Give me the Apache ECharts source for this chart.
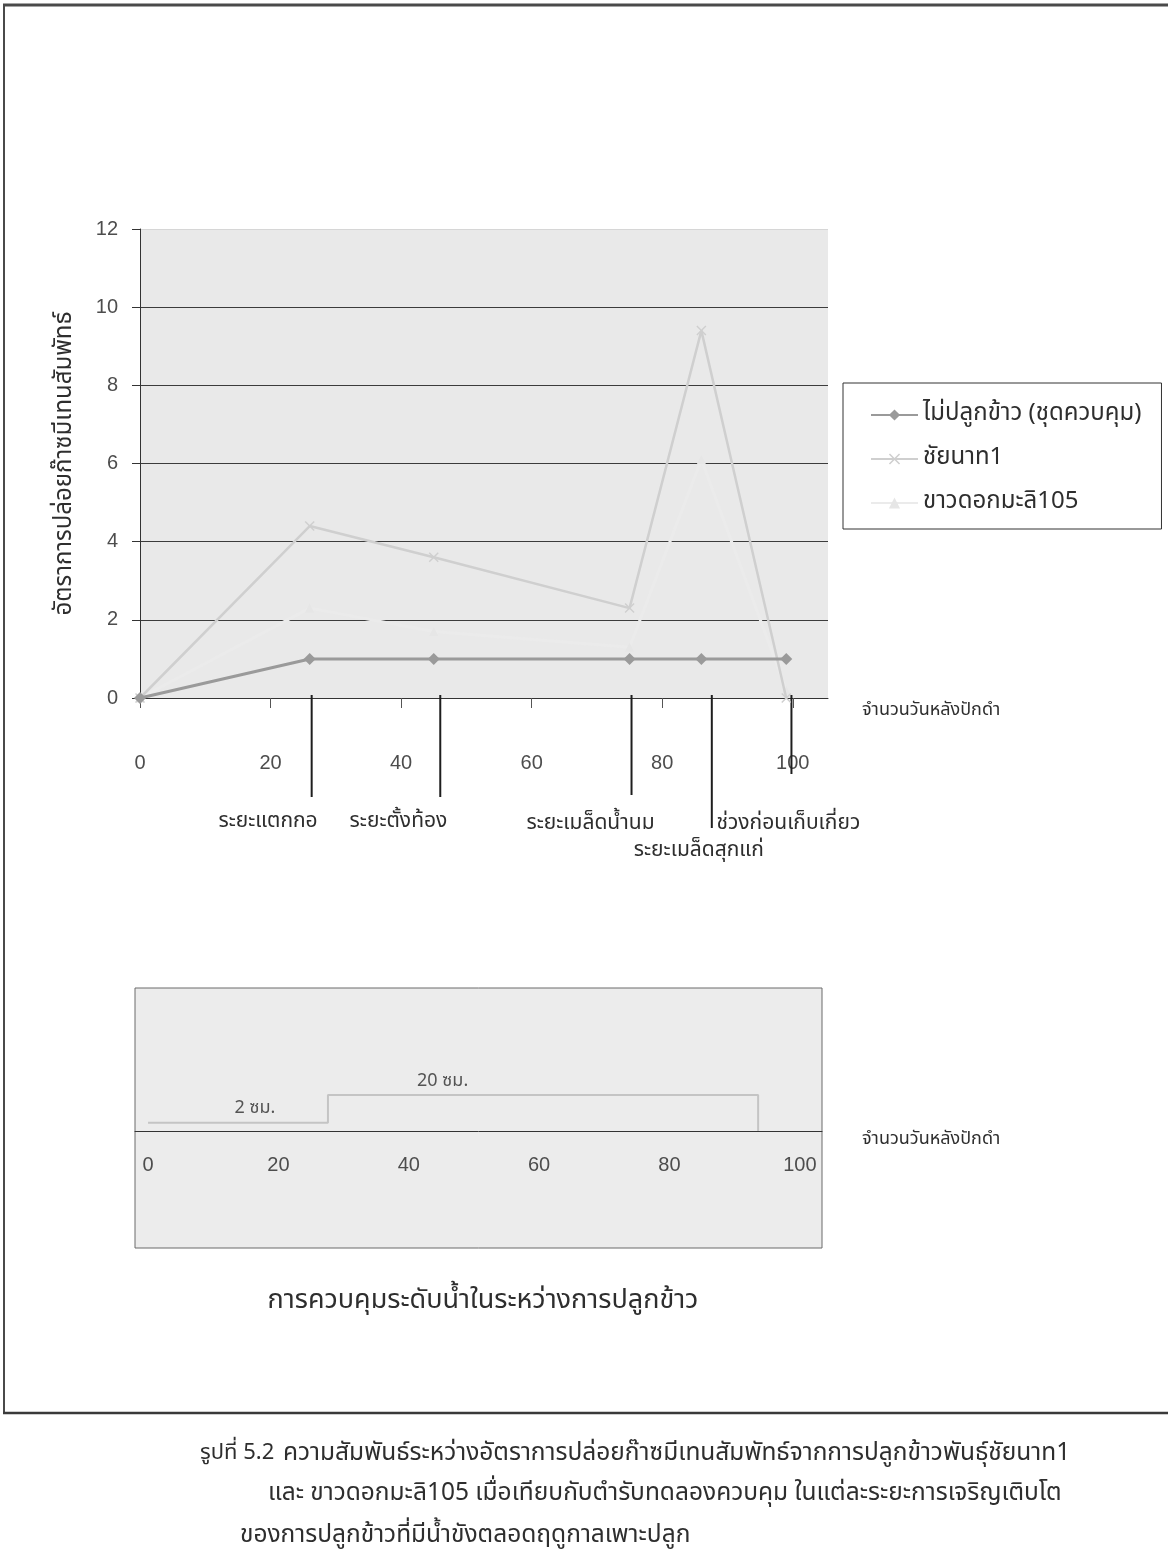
<!DOCTYPE html>
<html>
<head>
<meta charset="utf-8">
<script src="https://cdn.jsdelivr.net/npm/echarts@6/dist/echarts.min.js"></script>
<style>
  html, body { margin: 0; padding: 0; background: #ffffff; }
  #chart { width: 1168px; height: 1566px; }
</style>
</head>
<body>
<div id="chart"></div>
<script>
// ---- data ----------------------------------------------------------------
// days after transplanting at which methane emission was measured
const measureDays = [0, 26, 45, 75, 86, 99];
const seriesNames = ['ไม่ปลูกข้าว (ชุดควบคุม)', 'ชัยนาท1', 'ขาวดอกมะลิ105'];
// relative methane emission rate
const controlRate = [0, 1, 1, 1, 1, 1];
const chainat1Rate = [0, 4.4, 3.6, 2.3, 9.4, 0];
const kdml105Rate = [0, 2.3, 1.7, 1.3, 6.1, 0.2];

const yTicks = [0, 2, 4, 6, 8, 10, 12];
const xTicks = [0, 20, 40, 60, 80, 100];

// growth stages of the rice crop (days after transplanting)
const stageNames = ['ระยะแตกกอ', 'ระยะตั้งท้อง', 'ระยะเมล็ดน้ำนม', 'ระยะเมล็ดสุกแก่', 'ช่วงก่อนเก็บเกี่ยว'];
const stageDays = [26.3, 46, 75.3, 87.6, 99.8];

// water level kept in the field (cm)
const waterDays = [0, 27.6, 27.6, 93.6, 93.6];
const waterLevel = [2, 2, 20, 20, 0];
const waterLabels = ['2 ซม.', '20 ซม.'];

const xAxisName = 'จำนวนวันหลังปักดำ';
const yAxisName = 'อัตราการปล่อยก๊าซมีเทนสัมพัทธ์';
const waterTitle = 'การควบคุมระดับน้ำในระหว่างการปลูกข้าว';
const figureNo = 'รูปที่ 5.2';
const captionLines = [
  'ความสัมพันธ์ระหว่างอัตราการปล่อยก๊าซมีเทนสัมพัทธ์จากการปลูกข้าวพันธุ์ชัยนาท1',
  'และ ขาวดอกมะลิ105 เมื่อเทียบกับตำรับทดลองควบคุม ในแต่ละระยะการเจริญเติบโต',
  'ของการปลูกข้าวที่มีน้ำขังตลอดฤดูกาลเพาะปลูก'
];

// ---- layout / style ------------------------------------------------------
const FONT = '"Noto Sans Thai", "Loma", "Garuda", "Tlwg Typo", "Liberation Sans", "DejaVu Sans", sans-serif';
const NUM_FONT = '"Liberation Sans", Arial, sans-serif';
const INK = '#2e2e2e';
const GREY_TEXT = '#4d4d4d';
const PLOT_BG = '#e9e9e9';

// stage markers: depth below the axis (px units of the helper axis) and label placement
const stageLayout = [
  { depth: 99, dx: 6, dy: 125, align: 'right' },
  { depth: 99, dx: 7, dy: 125, align: 'right' },
  { depth: 97, dx: 23, dy: 127, align: 'right' },
  { depth: 130, dx: -13, dy: 154, align: 'center' },
  { depth: 76, dx: -75, dy: 127, align: 'left' }
];
// x positions (days) at which the water level labels sit
const waterLabelDay = [16.4, 45.2];
// a drained field is drawn on the floor of the log scale
const LEVEL_FLOOR = 1;

const chart = echarts.init(document.getElementById('chart'), null, { renderer: 'canvas' });

const pairs = (xs, ys) => xs.map((x, i) => [x, ys[i]]);
const xMark = 'path://M0,1L1,0L5,4L9,0L10,1L6,5L10,9L9,10L5,6L1,10L0,9L4,5Z';

const option = {
  animation: false,
  backgroundColor: '#ffffff',
  textStyle: { fontFamily: FONT },
  grid: [
    { left: 140, top: 229, width: 688, height: 469, show: true, backgroundColor: PLOT_BG, borderWidth: 0 },
    { left: 140, top: 698, width: 688, height: 170, show: false },
    { left: 135, top: 988, width: 687, height: 260, show: true, backgroundColor: '#ececec', borderColor: '#6a6a6a', borderWidth: 1 },
    { left: 135, top: 1075.7, width: 687, height: 55.3, show: false }
  ],
  xAxis: [
    {
      gridIndex: 0, type: 'value', min: 0, max: 105.4,
      axisLine: { show: true, lineStyle: { color: '#333', width: 1 } },
      axisTick: { show: true, customValues: xTicks, length: 10, lineStyle: { color: '#555' } },
      axisLabel: { customValues: xTicks, margin: 55, fontSize: 20, color: GREY_TEXT, fontFamily: NUM_FONT },
      splitLine: { show: false },
      name: xAxisName, nameLocation: 'end', nameGap: 34,
      nameTextStyle: { fontSize: 18, color: INK, verticalAlign: 'top', padding: [4, 0, 0, 0] }
    },
    { gridIndex: 1, type: 'value', min: 0, max: 105.4, show: false },
    { gridIndex: 2, type: 'value', min: 0, max: 1, show: false },
    {
      gridIndex: 3, type: 'value', min: -2, max: 103.4,
      axisLine: { show: true, lineStyle: { color: '#333', width: 1 } },
      axisTick: { show: false },
      axisLabel: { customValues: xTicks, margin: 24, fontSize: 20, color: GREY_TEXT, fontFamily: NUM_FONT },
      splitLine: { show: false },
      name: xAxisName, nameLocation: 'end', nameGap: 40,
      nameTextStyle: { fontSize: 18, color: INK, verticalAlign: 'top', padding: [0, 0, 0, 0] }
    }
  ],
  yAxis: [
    {
      gridIndex: 0, type: 'value', min: 0, max: 12, interval: 2,
      axisLine: { show: true, lineStyle: { color: '#333', width: 1 } },
      axisTick: { show: true, length: 8, lineStyle: { color: '#333' } },
      axisLabel: { fontSize: 20, color: GREY_TEXT, margin: 22, fontFamily: NUM_FONT },
      splitLine: { show: true, lineStyle: { color: ['#3c3c3c', '#3c3c3c', '#3c3c3c', '#3c3c3c', '#3c3c3c', '#3c3c3c', '#d6d6d6'], width: 1 } },
      name: yAxisName, nameLocation: 'middle', nameRotate: 90, nameGap: 62,
      nameTextStyle: { fontSize: 24, color: INK }
    },
    { gridIndex: 1, type: 'value', min: 0, max: 170, inverse: true, show: false },
    { gridIndex: 2, type: 'value', min: 0, max: 1, show: false },
    { gridIndex: 3, type: 'log', logBase: 10, min: 1, max: 100, show: false }
  ],
  legend: {
    orient: 'vertical', left: 843, top: 383,
    padding: [20, 20, 14, 27], itemGap: 20, itemWidth: 47, itemHeight: 14,
    borderColor: '#333', borderWidth: 1, backgroundColor: '#ffffff',
    textStyle: { fontSize: 24, color: INK, fontFamily: FONT },
    data: seriesNames
  },
  series: [
    {
      name: seriesNames[0], type: 'line', xAxisIndex: 0, yAxisIndex: 0,
      data: pairs(measureDays, controlRate),
      symbol: 'diamond', symbolSize: 12, showAllSymbol: true,
      lineStyle: { color: '#9a9a9a', width: 3 },
      itemStyle: { color: '#9a9a9a' }, z: 4
    },
    {
      name: seriesNames[1], type: 'line', xAxisIndex: 0, yAxisIndex: 0,
      data: pairs(measureDays, chainat1Rate),
      symbol: xMark, symbolSize: 10,
      lineStyle: { color: '#cfcfcf', width: 2.5 },
      itemStyle: { color: '#cfcfcf' }, z: 3
    },
    {
      name: seriesNames[2], type: 'line', xAxisIndex: 0, yAxisIndex: 0,
      data: pairs(measureDays, kdml105Rate),
      symbol: 'triangle', symbolSize: 9,
      lineStyle: { color: '#ebebeb', width: 3 },
      itemStyle: { color: '#e6e6e6' }, z: 2
    },
    {
      // growth stage markers below the time axis
      type: 'custom', xAxisIndex: 1, yAxisIndex: 1, silent: true,
      data: stageDays.map((d) => [d, 0]),
      renderItem: (params, api) => {
        const i = params.dataIndex;
        const lay = stageLayout[i];
        const top = api.coord([api.value(0), 0]);
        const bot = api.coord([api.value(0), lay.depth]);
        return {
          type: 'group',
          children: [
            { type: 'line', shape: { x1: top[0], y1: top[1] - 3, x2: bot[0], y2: bot[1] },
              style: { stroke: '#1e1e1e', lineWidth: 2 } },
            { type: 'text', style: { text: stageNames[i], x: top[0] + lay.dx, y: top[1] + lay.dy,
              align: lay.align, verticalAlign: 'middle', fill: INK, font: '21px ' + FONT } }
          ]
        };
      }
    },
    {
      // water level regime
      type: 'line', xAxisIndex: 3, yAxisIndex: 3, silent: true,
      data: pairs(waterDays, waterLevel.map((v) => Math.max(v, LEVEL_FLOOR))),
      symbol: 'none', lineStyle: { color: '#c4c4c4', width: 2 }
    },
    {
      type: 'scatter', xAxisIndex: 3, yAxisIndex: 3, silent: true,
      symbolSize: 0,
      data: [
        { value: [waterLabelDay[0], waterLevel[0]], name: waterLabels[0] },
        { value: [waterLabelDay[1], waterLevel[2]], name: waterLabels[1] }
      ],
      label: { show: true, position: 'top', distance: 4, formatter: '{b}', fontSize: 18, color: INK, fontFamily: FONT }
    }
  ],
  graphic: [
    // page frame
    { type: 'line', shape: { x1: 3, y1: 5, x2: 1168, y2: 5 }, style: { stroke: '#4a4a4a', lineWidth: 3 } },
    { type: 'line', shape: { x1: 4, y1: 5, x2: 4, y2: 1413 }, style: { stroke: '#4a4a4a', lineWidth: 2 } },
    { type: 'line', shape: { x1: 3, y1: 1413, x2: 1168, y2: 1413 }, style: { stroke: '#3a3a3a', lineWidth: 2.5 } },
    { type: 'text', style: { text: waterTitle, x: 483, y: 1303, align: 'center', verticalAlign: 'middle', fill: INK, font: '27px ' + FONT } },
    { type: 'text', style: { text: figureNo, x: 200, y: 1455, align: 'left', verticalAlign: 'middle', fill: INK, font: '22px ' + FONT } },
    { type: 'text', style: { text: captionLines[0], x: 283, y: 1455, align: 'left', verticalAlign: 'middle', fill: INK, font: '24.5px ' + FONT } },
    { type: 'text', style: { text: captionLines[1], x: 268, y: 1495, align: 'left', verticalAlign: 'middle', fill: INK, font: '24.5px ' + FONT } },
    { type: 'text', style: { text: captionLines[2], x: 240, y: 1537, align: 'left', verticalAlign: 'middle', fill: INK, font: '24.5px ' + FONT } }
  ]
};

chart.setOption(option);
</script>
</body>
</html>
